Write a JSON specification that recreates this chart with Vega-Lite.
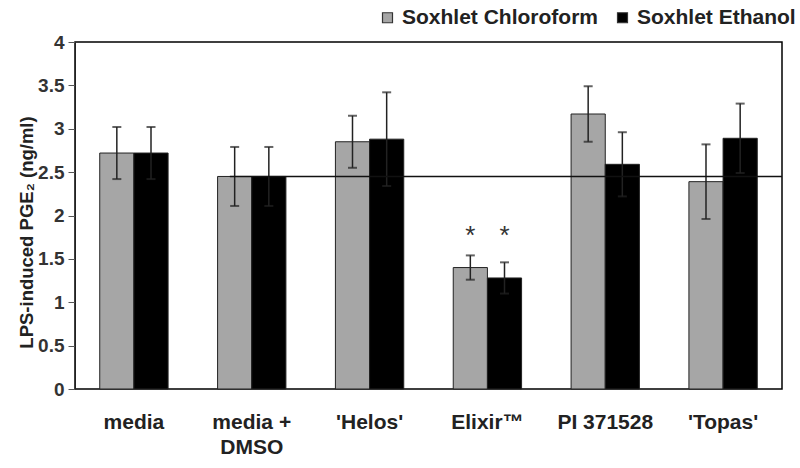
{
  "$schema": "https://vega.github.io/schema/vega-lite/v6.json",
  "autosize": {"type": "none"},
  "width": 707,
  "height": 347,
  "padding": {"left": 75, "top": 42, "right": 18, "bottom": 79},
  "background": "white",
  "config": {
    "font": "Liberation Sans",
    "view": {"stroke": "black", "strokeWidth": 1.5}
  },
  "data": {
    "values": [
      {"treatment": "media", "extract": "Soxhlet Chloroform", "mean": 2.72, "err": 0.30, "sig": ""},
      {"treatment": "media", "extract": "Soxhlet Ethanol", "mean": 2.72, "err": 0.30, "sig": ""},
      {"treatment": "media + DMSO", "extract": "Soxhlet Chloroform", "mean": 2.45, "err": 0.34, "sig": ""},
      {"treatment": "media + DMSO", "extract": "Soxhlet Ethanol", "mean": 2.45, "err": 0.34, "sig": ""},
      {"treatment": "'Helos'", "extract": "Soxhlet Chloroform", "mean": 2.85, "err": 0.30, "sig": ""},
      {"treatment": "'Helos'", "extract": "Soxhlet Ethanol", "mean": 2.88, "err": 0.54, "sig": ""},
      {"treatment": "Elixir™", "extract": "Soxhlet Chloroform", "mean": 1.40, "err": 0.14, "sig": "*"},
      {"treatment": "Elixir™", "extract": "Soxhlet Ethanol", "mean": 1.28, "err": 0.18, "sig": "*"},
      {"treatment": "PI 371528", "extract": "Soxhlet Chloroform", "mean": 3.17, "err": 0.32, "sig": ""},
      {"treatment": "PI 371528", "extract": "Soxhlet Ethanol", "mean": 2.59, "err": 0.37, "sig": ""},
      {"treatment": "'Topas'", "extract": "Soxhlet Chloroform", "mean": 2.39, "err": 0.43, "sig": ""},
      {"treatment": "'Topas'", "extract": "Soxhlet Ethanol", "mean": 2.89, "err": 0.40, "sig": ""}
    ]
  },
  "transform": [
    {"calculate": "datum.mean - datum.err", "as": "lo"},
    {"calculate": "datum.mean + datum.err", "as": "hi"}
  ],
  "encoding": {
    "x": {
      "field": "treatment",
      "type": "nominal",
      "sort": null,
      "scale": {"paddingInner": 0.42, "paddingOuter": 0.21},
      "axis": {
        "title": null,
        "labelAngle": 0,
        "labelFont": "Liberation Sans",
        "labelFontWeight": "bold",
        "labelFontSize": 21,
        "labelColor": "#222",
        "labelPadding": 22,
        "labelLineHeight": 25,
        "labelBaseline": "top",
        "ticks": false,
        "domain": false,
        "labelExpr": "datum.value == 'media + DMSO' ? ['media +', 'DMSO'] : datum.value"
      }
    },
    "xOffset": {
      "field": "extract",
      "type": "nominal",
      "sort": ["Soxhlet Chloroform", "Soxhlet Ethanol"],
      "scale": {"paddingInner": 0, "paddingOuter": 0}
    }
  },
  "layer": [
    {
      "mark": {"type": "bar", "stroke": "#222", "strokeWidth": 1},
      "encoding": {
        "y": {
          "field": "mean",
          "type": "quantitative",
          "scale": {"domain": [0, 4], "nice": false},
          "axis": {
            "title": "LPS-induced PGE₂ (ng/ml)",
            "titleFont": "Liberation Sans",
            "titleFontSize": 18.5,
            "titleFontWeight": "bold",
            "titleColor": "#222",
            "titlePadding": 1,
            "titleY": 190,
            "values": [0, 0.5, 1, 1.5, 2, 2.5, 3, 3.5, 4],
            "format": "~g",
            "labelFont": "Liberation Sans",
            "labelFontSize": 19,
            "labelFontWeight": "bold",
            "labelColor": "#333",
            "labelPadding": 4,
            "tickColor": "#555",
            "tickSize": 7,
            "domainColor": "#222",
            "grid": false
          }
        },
        "fill": {
          "field": "extract",
          "type": "nominal",
          "sort": ["Soxhlet Chloroform", "Soxhlet Ethanol"],
          "scale": {"range": ["#a6a6a6", "#000000"]},
          "legend": {
            "title": null,
            "orient": "none",
            "direction": "horizontal",
            "legendX": 302,
            "legendY": -35,
            "symbolType": "square",
            "symbolSize": 100,
            "symbolStrokeColor": "#333",
            "symbolStrokeWidth": 1.2,
            "labelFont": "Liberation Sans",
            "labelFontSize": 21,
            "labelFontWeight": "bold",
            "labelColor": "#222",
            "labelOffset": 4,
            "labelLimit": 0,
            "columnPadding": 13,
            "symbolOffset": 0
          }
        }
      }
    },
    {
      "mark": {"type": "rule", "color": "#222", "strokeWidth": 1.5},
      "encoding": {
        "y": {"field": "lo", "type": "quantitative"},
        "y2": {"field": "hi"}
      }
    },
    {
      "mark": {"type": "tick", "color": "#222", "thickness": 2, "size": 9, "orient": "horizontal"},
      "encoding": {"y": {"field": "hi", "type": "quantitative"}}
    },
    {
      "mark": {"type": "tick", "color": "#222", "thickness": 2, "size": 9, "orient": "horizontal"},
      "encoding": {"y": {"field": "lo", "type": "quantitative"}}
    },
    {
      "transform": [{"filter": "datum.sig != ''"}],
      "mark": {"type": "text", "fontSize": 26, "font": "Liberation Sans", "color": "#333", "baseline": "middle", "dy": 4},
      "encoding": {
        "y": {"datum": 1.81},
        "text": {"field": "sig"}
      }
    },
    {
      "data": {"values": [{"treatment": "media + DMSO", "ref": 2.45}]},
      "mark": {"type": "rule", "color": "#111", "strokeWidth": 1.5},
      "encoding": {
        "x": {"field": "treatment", "type": "nominal", "bandPosition": 0.18},
        "xOffset": null,
        "x2": {"value": {"expr": "width"}},
        "y": {"field": "ref", "type": "quantitative"}
      }
    }
  ]
}
